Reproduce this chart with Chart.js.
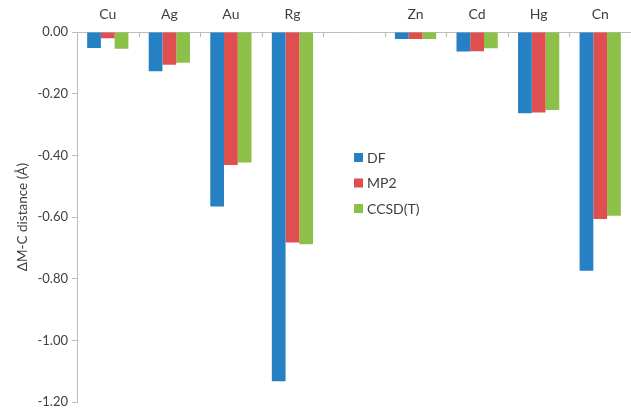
<!DOCTYPE html>
<html>
<head>
<meta charset="utf-8">
<script src="https://cdn.jsdelivr.net/npm/chart.js@4/dist/chart.umd.min.js"></script>
<style>
  html, body { margin: 0; padding: 0; background: #ffffff; }
  #wrap { width: 631px; height: 414px; }
</style>
</head>
<body>
<div id="wrap"><canvas id="chart" width="631" height="414"></canvas></div>
<script>
// Change in metal–carbon distance per element and method
const categories = ['Cu', 'Ag', 'Au', 'Rg', '', 'Zn', 'Cd', 'Hg', 'Cn'];
const dfValues   = [-0.052, -0.127, -0.566, -1.132, null, -0.023, -0.063, -0.263, -0.774];
const mp2Values  = [-0.020, -0.106, -0.431, -0.682, null, -0.023, -0.062, -0.261, -0.606];
const ccsdValues = [-0.054, -0.100, -0.423, -0.688, null, -0.023, -0.053, -0.253, -0.596];
const seriesNames = ['DF', 'MP2', 'CCSD(T)'];
const yTicks = [0, -0.2, -0.4, -0.6, -0.8, -1.0, -1.2];

const COLORS = ['#2581c4', '#e04f4f', '#8cc049'];
const AXIS_COLOR = '#bcbcbc';
const TEXT_COLOR = '#404040';
const FONT_FAMILY = 'Lato, "Open Sans", sans-serif';

// Small downward tick marks at the category boundaries on the top axis
const categoryTicks = {
  id: 'categoryTicks',
  afterDraw(chart) {
    const x = chart.scales.x;
    const n = chart.data.labels.length;
    const w = (x.right - x.left) / n;
    const ctx = chart.ctx;
    ctx.save();
    ctx.strokeStyle = AXIS_COLOR;
    ctx.lineWidth = 1;
    for (let k = 1; k < n; k++) {
      const px = Math.round(x.left + k * w) + 0.5;
      ctx.beginPath();
      ctx.moveTo(px, x.bottom);
      ctx.lineTo(px, x.bottom + 5);
      ctx.stroke();
    }
    ctx.restore();
  }
};

// Legend drawn inside the plot area
const innerLegend = {
  id: 'innerLegend',
  afterDraw(chart) {
    const ctx = chart.ctx;
    ctx.save();
    ctx.font = '14px ' + FONT_FAMILY;
    ctx.textBaseline = 'middle';
    chart.data.datasets.forEach((ds, i) => {
      const y = 153 + i * 25.5;
      ctx.fillStyle = ds.backgroundColor;
      ctx.fillRect(354, y, 9, 9);
      ctx.fillStyle = TEXT_COLOR;
      ctx.fillText(ds.label, 367, y + 5);
    });
    ctx.restore();
  }
};

new Chart(document.getElementById('chart'), {
  type: 'bar',
  data: {
    labels: categories,
    datasets: [
      { label: seriesNames[0], data: dfValues,   backgroundColor: COLORS[0] },
      { label: seriesNames[1], data: mp2Values,  backgroundColor: COLORS[1] },
      { label: seriesNames[2], data: ccsdValues, backgroundColor: COLORS[2] }
    ]
  },
  options: {
    responsive: false,
    animation: false,
    devicePixelRatio: 1,
    layout: { padding: { top: 0, right: 0, bottom: 7, left: 0 } },
    datasets: { bar: { categoryPercentage: 0.67, barPercentage: 1.0 } },
    plugins: {
      legend: { display: false },
      tooltip: { enabled: false }
    },
    scales: {
      x: {
        position: 'top',
        grid: { display: true, drawOnChartArea: false, drawTicks: false, color: AXIS_COLOR },
        border: { display: true, color: AXIS_COLOR, width: 1 },
        ticks: {
          color: TEXT_COLOR,
          font: { family: FONT_FAMILY, size: 14 },
          padding: 9,
          maxRotation: 0,
          autoSkip: false
        },
        afterFit(scale) { scale.height = 32; }
      },
      y: {
        min: -1.2,
        max: 0,
        afterBuildTicks(scale) { scale.ticks = yTicks.map(v => ({ value: v })); },
        grid: { display: true, drawOnChartArea: false, drawTicks: true, tickLength: 5, color: AXIS_COLOR },
        border: { display: true, color: AXIS_COLOR, width: 1 },
        ticks: {
          color: TEXT_COLOR,
          font: { family: FONT_FAMILY, size: 13 },
          padding: 4,
          callback: (v) => Number(v).toFixed(2)
        },
        title: {
          display: true,
          text: 'ΔM-C distance (Å)',
          color: TEXT_COLOR,
          font: { family: FONT_FAMILY, size: 13.5 },
          padding: { top: 15, bottom: 0 }
        },
        afterFit(scale) { scale.width = 77; }
      }
    }
  },
  plugins: [categoryTicks, innerLegend]
});
</script>
</body>
</html>
